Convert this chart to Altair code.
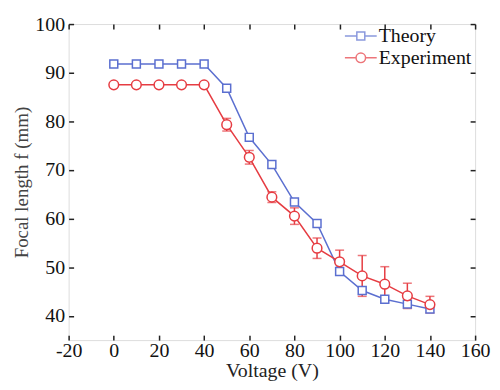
import altair as alt
import pandas as pd

voltage = [0, 10, 20, 30, 40, 50, 60, 70, 80, 90, 100, 110, 120, 130, 140]
theory = [91.8, 91.8, 91.8, 91.8, 91.8, 86.8, 76.7, 71.1, 63.4, 59.0, 49.1, 45.2, 43.4, 42.4, 41.4]
experiment = [87.5, 87.5, 87.5, 87.5, 87.5, 79.3, 72.6, 64.4, 60.5, 53.9, 51.1, 48.2, 46.5, 44.1, 42.3]
exp_err = [0, 0, 0, 0, 0, 1.3, 1.4, 1.1, 1.7, 2.1, 2.4, 4.2, 3.6, 2.6, 1.7]
series_names = ["Theory", "Experiment"]
x_ticks = [-20, 0, 20, 40, 60, 80, 100, 120, 140, 160]
y_ticks = [40, 50, 60, 70, 80, 90, 100]

BLUE = "#5b6fd0"
RED = "#e63c42"
W, H = 409, 318
FONT = "Liberation Serif"

df_t = pd.DataFrame({"V": voltage, "f": theory})
df_e = pd.DataFrame({"V": voltage, "f": experiment, "err": exp_err})
df_e["lo"] = df_e["f"] - df_e["err"]
df_e["hi"] = df_e["f"] + df_e["err"]
df_err = df_e[df_e["err"] > 0]

xs = alt.Scale(domain=[-20, 160], nice=False, zero=False)
ys = alt.Scale(domain=[35, 100], nice=False, zero=False)

lab_x = alt.Axis(orient="bottom", values=x_ticks, ticks=False, tickSize=0, domain=False, grid=False,
                 labelFont=FONT, labelFontSize=20, labelColor="#111", labelPadding=1,
                 labelExpr="'' + datum.value",
                 title="Voltage (V)", titleFont=FONT, titleFontSize=20, titleFontWeight="normal",
                 titleColor="#222", titlePadding=0, labelFlush=False)
lab_y = alt.Axis(orient="left", values=y_ticks, ticks=False, tickSize=0, domain=False, grid=False,
                 labelFont=FONT, labelFontSize=20, labelColor="#111", labelPadding=4,
                 title="Focal length f (mm)", titleFont=FONT, titleFontSize=19, titleFontWeight="normal",
                 titleColor="#444", titlePadding=3, labelFlush=False)

def tick_axis(orient, values, offset):
    return alt.Axis(orient=orient, values=values, offset=offset, labels=False, domain=False,
                    grid=False, ticks=True, tickSize=5, tickWidth=1.5, tickColor="#222", title=None)

t_line = alt.Chart(df_t).mark_line(color=BLUE, strokeWidth=1.5).encode(
    x=alt.X("V:Q", scale=xs, axis=lab_x),
    y=alt.Y("f:Q", scale=ys, axis=lab_y),
)
e_line = alt.Chart(df_e).mark_line(color=RED, strokeWidth=1.5).encode(
    x=alt.X("V:Q", scale=xs, axis=tick_axis("top", x_ticks, -H)),
    y=alt.Y("f:Q", scale=ys, axis=tick_axis("right", y_ticks, -W)),
)
err_rule = alt.Chart(df_err).mark_rule(color=RED, strokeWidth=1.5).encode(
    x=alt.X("V:Q", scale=xs, axis=tick_axis("bottom", x_ticks, -H)),
    y=alt.Y("lo:Q", scale=ys, axis=tick_axis("left", y_ticks, -W)),
    y2="hi:Q",
)
cap_lo = alt.Chart(df_err).mark_tick(color=RED, thickness=1.5, size=9, orient="horizontal").encode(
    x=alt.X("V:Q", scale=xs, axis=None),
    y=alt.Y("lo:Q", scale=ys, axis=None),
)
cap_hi = alt.Chart(df_err).mark_tick(color=RED, thickness=1.5, size=9, orient="horizontal").encode(
    x=alt.X("V:Q", scale=xs, axis=None),
    y=alt.Y("hi:Q", scale=ys, axis=None),
)
t_pts = alt.Chart(df_t).mark_point(shape="square", size=64, filled=True, fill="white",
                                   stroke=BLUE, strokeWidth=1.5, opacity=1).encode(
    x=alt.X("V:Q", scale=xs, axis=None),
    y=alt.Y("f:Q", scale=ys, axis=None),
)
e_pts = alt.Chart(df_e).mark_point(shape="circle", size=95, filled=True, fill="white",
                                   stroke=RED, strokeWidth=1.5, opacity=1).encode(
    x=alt.X("V:Q", scale=xs, axis=None),
    y=alt.Y("f:Q", scale=ys, axis=None),
)

SQ_PATH = "M-2,0L-0.5,0M0.5,0L2,0M-0.5,-0.5L0.5,-0.5L0.5,0.5L-0.5,0.5Z"
CI_PATH = "M-2,0L-0.6,0M0.6,0L2,0M0.6,0A0.6,0.6,0,1,1,-0.6,0A0.6,0.6,0,1,1,0.6,0Z"

leg = dict(orient="none", legendX=284, legendY=2, title=None, padding=0,
           labelFont=FONT, labelFontSize=20, labelColor="#111", labelOffset=8,
           symbolSize=256, symbolStrokeWidth=1.5, rowPadding=2, labelLimit=200)
legend_layer = alt.Chart(pd.DataFrame({"series": series_names})).transform_filter("false").mark_point(
    filled=False, strokeWidth=1.5).encode(
    color=alt.Color("series:N", scale=alt.Scale(domain=series_names, range=[BLUE, RED]),
                    legend=alt.Legend(**leg)),
    shape=alt.Shape("series:N", scale=alt.Scale(domain=series_names, range=[SQ_PATH, CI_PATH]),
                    legend=alt.Legend(**leg)),
)

chart = alt.layer(t_line, e_line, err_rule, cap_lo, cap_hi, t_pts, e_pts, legend_layer).resolve_axis(
    x="independent", y="independent"
).properties(
    width=W, height=H,
    autosize=alt.AutoSizeParams(type="none"),
    padding={"left": 61, "top": 15, "right": 17, "bottom": 41},
).configure_view(stroke="#222", strokeWidth=1.5).configure(background="white")

chart.save("out.html", embed_options={"renderer": "svg", "actions": False})
